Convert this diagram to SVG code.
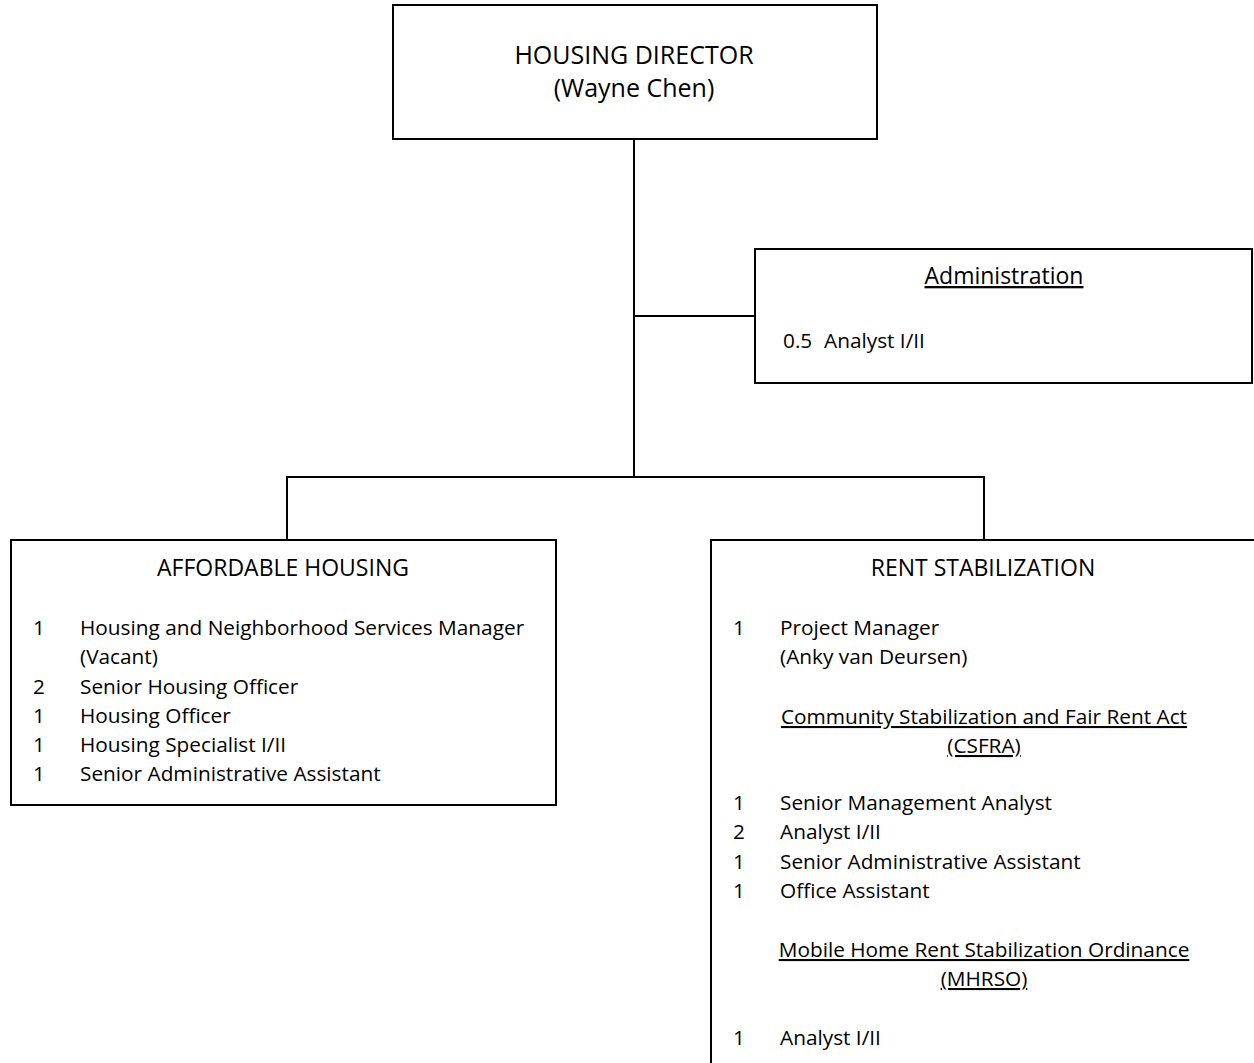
<svg xmlns="http://www.w3.org/2000/svg" width="1254" height="1063" viewBox="0 0 1254 1063">
<style>
  .box { fill: #ffffff; stroke: #000000; stroke-width: 2; }
  .ln { fill: none; stroke: #000000; stroke-width: 2; }
  text { font-family: "Open Sans", "Liberation Sans", sans-serif; font-size: 20.8px; fill: #000000; }
  .h { font-size: 23px; }
  .t { font-size: 25px; }
  .c { text-anchor: middle; }
  .u { text-decoration: underline; }
</style>
<rect width="1254" height="1063" fill="#ffffff"/>
<g id="connectors">
  <line class="ln" x1="634" y1="139" x2="634" y2="477"/>
  <line class="ln" x1="634" y1="316" x2="755" y2="316"/>
  <line class="ln" x1="286" y1="477" x2="985" y2="477"/>
  <line class="ln" x1="287" y1="476" x2="287" y2="540"/>
  <line class="ln" x1="984" y1="476" x2="984" y2="540"/>
</g>
<g id="director">
  <rect class="box" x="393" y="5" width="484" height="134"/>
  <text class="c t" x="634" y="64">HOUSING DIRECTOR</text>
  <text class="c t" x="634" y="97">(Wayne Chen)</text>
</g>
<g id="administration">
  <rect class="box" x="755" y="249" width="497" height="134"/>
  <text class="c u h" x="1004" y="284">Administration</text>
  <text x="783" y="348">0.5</text>
  <text x="824" y="348">Analyst I/II</text>
</g>
<g id="affordable-housing">
  <rect class="box" x="11" y="540" width="545" height="265"/>
  <text class="c h" x="283" y="576">AFFORDABLE HOUSING</text>
  <text x="33" y="635">1</text><text x="80" y="635">Housing and Neighborhood Services Manager</text>
  <text x="80" y="664">(Vacant)</text>
  <text x="33" y="694">2</text><text x="80" y="694">Senior Housing Officer</text>
  <text x="33" y="723">1</text><text x="80" y="723">Housing Officer</text>
  <text x="33" y="752">1</text><text x="80" y="752">Housing Specialist I/II</text>
  <text x="33" y="781">1</text><text x="80" y="781">Senior Administrative Assistant</text>
</g>
<g id="rent-stabilization">
  <path class="ln" d="M711,1064 V540 H1256"/>
  <text class="c h" x="983" y="576">RENT STABILIZATION</text>
  <text x="733" y="635">1</text><text x="780" y="635">Project Manager</text>
  <text x="780" y="664">(Anky van Deursen)</text>
  <text class="c u" x="984" y="724">Community Stabilization and Fair Rent Act</text>
  <text class="c u" x="984" y="753">(CSFRA)</text>
  <text x="733" y="810">1</text><text x="780" y="810">Senior Management Analyst</text>
  <text x="733" y="839">2</text><text x="780" y="839">Analyst I/II</text>
  <text x="733" y="869">1</text><text x="780" y="869">Senior Administrative Assistant</text>
  <text x="733" y="898">1</text><text x="780" y="898">Office Assistant</text>
  <text class="c u" x="984" y="957">Mobile Home Rent Stabilization Ordinance</text>
  <text class="c u" x="984" y="986">(MHRSO)</text>
  <text x="733" y="1045">1</text><text x="780" y="1045">Analyst I/II</text>
</g>
</svg>
